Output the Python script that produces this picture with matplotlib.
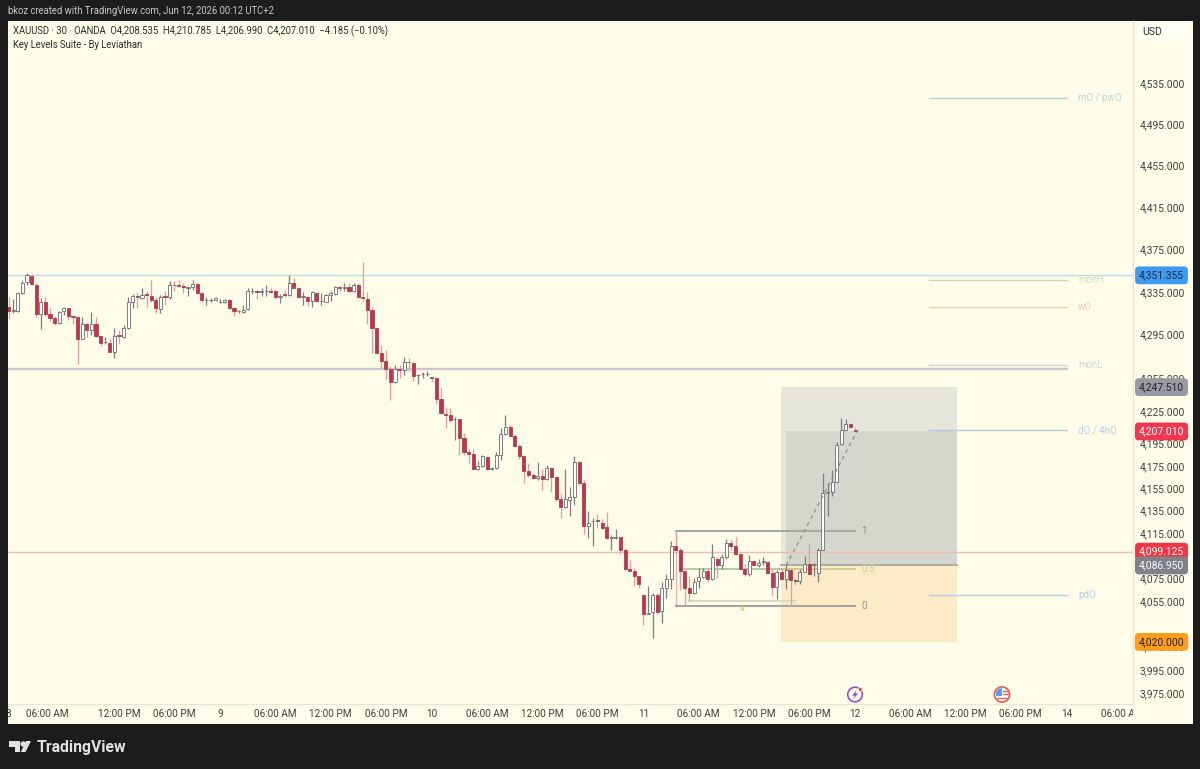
import matplotlib
matplotlib.use("Agg")
import matplotlib.pyplot as plt
from matplotlib.patches import Rectangle, Circle, Polygon

plt.rcParams['font.family'] = ['Roboto', 'DejaVu Sans']

# ---------- data ----------
opens = [4322,4318,4318,4335,4345,4351,4342,4315,4326,4315,4311,4307,4318,4321,4313,4312,4292,4306,4300,4306,
         4295,4289,4288,4280,4295.5,4294,4302,4326,4332,4330,4334,4332,4328,4320,4332,4331,4342.5,4342,4341,4339.5,
         4340,4343,4335,4328,4328,4328,4326,4326,4328,4321,4317.5,4317,4320,4336.5,4337,4336,4336.5,4337,4337,4331.5,4333.5,
         4333,4344,4339,4331,4331,4327,4335,4327,4326,4333,4334,4340,4339,4340,4337,4342,4331,4329,4319,4302,
         4279,4272,4264,4252,4264,4263,4271,4270,4258.5,4259.5,4259.5,4257,4256,4237,4223,4222,4218,4218,4201,4188,
         4187,4173,4176,4184,4173,4174,4186,4205,4211,4203,4194,4185,4171,4168,4165,4167,4164,4174,4166,4146,
         4139,4145,4148,4179,4160,4122,4126,4127,4125,4121,4111,4111.5,4112,4101,4084,4082,4078,4061,4044,4046,
         4061,4047,4067,4075,4104,4101,4082,4067,4063,4073,4077,4082,4075,4093,4087,4094,4107,4104,4097,4084,
         4079,4091,4087,4090,4090,4080,4068,4081,4075,4083,4074,4073,4081,4088,4087,4080,4101,4151,4152,4161,
         4195.5,4208,4214,4208.535]
highs = [4331,4329,4336,4347,4354,4353,4344,4330,4331,4321,4313,4318,4322,4321,4314,4313,4312,4307,4317,4312,
         4295,4294,4292,4302,4300,4305,4331,4334,4336,4339,4337,4347,4331,4333,4337,4346,4346,4347,4344,4340,
         4347,4344,4336,4331,4330,4331,4329,4329,4329,4321,4319,4324,4339,4339,4338,4339,4342,4339,4337.5,4334,4338,
         4352,4349,4340,4336,4332,4336.5,4336,4335,4334,4337,4341,4341,4344,4344,4344,4344,4364,4336,4322,4302.5,
         4286,4282,4267,4268,4268,4275,4274,4271,4259.5,4261,4262,4257,4257,4247,4229,4228,4220,4218,4206,4191,
         4191,4180,4186,4185,4175,4188,4210,4222,4213,4205,4196,4186,4178,4169,4179,4173,4177,4175,4166,4151,
         4173,4157,4185,4180,4163,4135,4129,4133,4128,4134,4114,4119,4112.5,4102,4092,4085,4078,4061,4069,4063,
         4063,4072,4079,4109,4117,4102,4083,4078,4076,4085,4085,4084,4106,4094,4097,4110,4110,4112,4098,4088,
         4096,4092,4093,4094,4091,4085,4083,4085,4088,4085,4076,4084,4095,4107,4089,4102,4169,4160,4172,4197,
         4219,4218,4215,4210.785]
lows = [4311,4316,4317,4334,4342,4342,4312,4301,4313,4309,4305,4306,4314,4310,4306,4269,4292,4294,4296,4294,
        4285,4287,4280,4274,4287,4293,4301,4321,4321,4329,4322,4326,4316,4316,4324,4329,4337,4340,4335,4332,
        4338,4334,4326,4324,4326,4327,4325,4325,4320,4313,4316,4316,4319,4334,4329,4332,4332,4335,4329,4325,4331,
        4332,4339,4330,4324,4323,4322,4326,4324,4326,4327,4333,4337,4337,4336,4336,4330,4327,4306,4279,4278,
        4264,4254,4236,4251,4256,4259,4262,4253,4250,4256,4258,4252,4232,4223,4210,4216,4199,4186,4186,4178,
        4172,4172,4175,4172,4172,4173,4181,4204,4202,4193,4182,4160,4166,4164,4163,4154,4163,4152,4144,4129,
        4138,4131,4141,4159,4115,4111,4104,4120,4119,4110,4101,4110,4097,4082,4081,4069,4067,4035,4044,4023,
        4044,4036,4058,4066,4098,4065,4051,4056,4062,4067,4076,4073,4074,4076,4084,4093,4101,4096,4084,4078,
        4078,4087,4086,4087,4079,4061,4057,4074,4066,4051,4070,4071,4081,4079,4078,4072,4100.5,4131,4149,4160,
        4195,4208,4210,4206.99]
closes = [4318,4319,4335,4344,4352,4343,4315,4326,4315,4311,4307,4317,4321,4313,4312,4292,4306,4300,4306,4295,
          4288,4289.5,4280,4295,4295,4302,4326,4332,4331,4333,4333,4328,4321,4331,4331,4342,4342,4341,4340,4340,
          4343,4335,4328,4328.5,4328.5,4330,4326.5,4328,4321,4318,4318,4319,4337,4337,4336,4337,4337,4336,4331,4332,4333,
          4344,4339,4331,4332,4327,4336,4327,4327.5,4333,4335,4340,4339.5,4340,4337,4342,4331,4330,4319,4302,4279,
          4272,4264,4252,4264,4263,4271,4270.5,4257.5,4259,4260,4260,4256,4237,4224,4222,4217,4218.5,4201,4188,4187,
          4173,4176,4185,4173,4174,4186,4205,4211,4203,4194,4185,4171,4168,4165,4167,4164,4174,4166,4146,4139,
          4146,4148,4179,4160,4122,4125,4126.5,4126,4120,4111,4112,4112,4101,4084,4082,4078,4071,4044,4045,4061,
          4046,4067,4075,4104,4101,4082,4067,4063,4072,4077,4082,4075,4094,4087,4094,4107,4104,4097,4084,4079,
          4091,4087,4089,4091,4080,4068,4081,4075,4083,4074,4073,4081,4088,4079,4088,4101,4151,4152,4161,4195,
          4208,4214,4211,4207.01]
assert len(opens) == len(highs) == len(lows) == len(closes)
bar_index = list(range(len(closes)))

price_ticks = [4535,4495,4455,4415,4375,4335,4295,4255,4225,4195,4175,4155,4135,4115,4075,4055,4015,3995,3975]

time_ticks = [0,8.5,24,36,46,58,70,82,92,104,116,128,138,150,162,174,184,196,208,220,230,242]
time_labels = ['8','06:00 AM','12:00 PM','06:00 PM','9','06:00 AM','12:00 PM','06:00 PM','10','06:00 AM','12:00 PM','06:00 PM',
               '11','06:00 AM','12:00 PM','06:00 PM','12','06:00 AM','12:00 PM','06:00 PM','14','06:00 AM']

line_high = 4351.355
line_mid = 4264.2
line_low = 4099.125

key_names = ['mO / pwO','monH','wO','monL','dO / 4hO','pdO']
key_prices = [4521.4,4347,4321.7,4267.8,4208.3,4061]
key_colors = ['#b5d0d6','#cadcb6','#f6cbab','#cfd9d2','#b8c8dd','#bacce2']
key_text = ['#bcd8d2','#cfe0c4','#f7cdb0','#d0dad4','#bccde2','#bccde2']

pos_tp = 4247.51
pos_entry = 4086.95
pos_sl = 4020.0
pos2_tp = 4207.01

fib_values = [4117.5,4083.8,4050.9]
fib_names = ['1','0.5','0']
sub_level = 4055.7

badge_values = [4351.355,4247.51,4207.01,4099.125,4086.95,4020.0]
badge_colors = ['#3d9bf0','#9a9aa4','#f23650','#f23645','#7f808a','#ff9d1e']
badge_text = ['#1b2a3a','#222222','#ffffff','#ffffff','#ffffff','#2a2010']

# ---------- layout ----------
W, H = 1200, 769
DARK = '#1c1c1c'
CREAM = '#fffde9'
fig = plt.figure(figsize=(W/100, H/100), dpi=100, facecolor=DARK)

def box(x0, y0, x1, y1):
    return [x0/W, 1-y1/H, (x1-x0)/W, (y1-y0)/H]

XMIN, XMAX = -0.13, 244.4
YMIN, YMAX = 3966.4, 4597.2

ax = fig.add_axes(box(8, 21, 1133, 704), facecolor=CREAM)
ax.set_yscale('log')
ax.set_xlim(XMIN, XMAX)
ax.set_ylim(YMIN, YMAX)
ax.set_xticks([]); ax.set_yticks([]); ax.minorticks_off()
ax.tick_params(which='both', left=False, right=False, labelleft=False)
for s in ax.spines.values():
    s.set_visible(False)

# position tool
ax.add_patch(Rectangle((167.9, pos_entry), 38.3, pos_tp-pos_entry, fc='#e6e6da', ec='none', zorder=1))
ax.add_patch(Rectangle((169, pos_entry), 37.2, pos2_tp-pos_entry, fc='#d5d6cc', ec='none', zorder=1.1))
ax.add_patch(Rectangle((167.9, pos_sl), 38.3, pos_entry-pos_sl, fc='#fdebc8', ec='none', zorder=1))
ax.plot([167.9, 206.2], [pos_entry, pos_entry], color='#a9a9a2', lw=1.3, zorder=2)

# horizontal lines
ax.plot([XMIN, XMAX], [line_high]*2, color='#b9dcee', lw=1.0, zorder=1.5)
ax.plot([XMIN, 230.1], [line_mid]*2, color='#cfc7cc', lw=1.7, zorder=1.5)
ax.plot([XMIN, XMAX], [line_low]*2, color='#f0bcae', lw=1.0, zorder=1.5)

# key levels
for name, p, c, tc in zip(key_names, key_prices, key_colors, key_text):
    ax.plot([200, 230.1], [p, p], color=c, lw=1.0, zorder=1.5)
    ax.text(232.5, p, name, color=tc, fontsize=7, va='center', ha='left', zorder=2)

# fib
ax.plot([145, 145], [fib_values[2], fib_values[0]], color='#eeb3b3', lw=1.0, zorder=2)
ax.plot([145, 184], [fib_values[0]]*2, color='#a9a9a3', lw=1.5, zorder=2)
ax.plot([146.4, 168], [fib_values[1]]*2, color='#a8cb9c', lw=1.3, zorder=2)
ax.plot([168, 184], [fib_values[1]]*2, color='#c8cc8e', lw=1.3, zorder=2)
ax.plot([145, 184], [fib_values[2]]*2, color='#a5a5a0', lw=1.5, zorder=2)
ax.plot([148, 171], [sub_level]*2, color='#d8d6c2', lw=1.3, zorder=2)
for name, p, tc in zip(fib_names, fib_values, ['#8f8f8a', '#c7ca8c', '#8f8f8a']):
    ax.text(185.3, p, name, color=tc, fontsize=7, va='center', ha='left', zorder=2)
ax.text(159.4, sub_level-6, 'x', color='#f3b04c', fontsize=7, va='center', ha='center', zorder=2)

# dashed path
ax.plot([169, 184.4], [pos_entry, pos2_tp], color='#8d8d88', lw=0.9, ls=(0, (3, 3)), zorder=5)

# candles
for i, o, h, l, c in zip(bar_index, opens, highs, lows, closes):
    down = c < o
    wick = '#e79aa6' if down else '#7d7d7d'
    ax.plot([i, i], [l, h], color=wick, lw=0.9, zorder=3, solid_capstyle='butt')
    lo, hi = min(o, c), max(o, c)
    ax.bar(i, hi-lo, bottom=lo, width=0.68,
           color='#c0354b' if down else '#ffffff',
           edgecolor='#a84050' if down else '#6c6c6c', linewidth=0.6, zorder=4)

# price axis
axr = fig.add_axes(box(1133, 21, 1193, 704), facecolor=CREAM)
axr.set_yscale('log')
axr.set_xlim(0, 60)
axr.set_ylim(YMIN, YMAX)
axr.set_xticks([]); axr.set_yticks([]); axr.minorticks_off()
axr.tick_params(which='both', left=False, right=False, labelleft=False)
for s in axr.spines.values():
    s.set_visible(False)
axr.spines['left'].set_visible(True)
axr.spines['left'].set_color('#e9e7d3')
axr.spines['left'].set_linewidth(1)
for p in price_ticks:
    axr.text(29, p, f'{p:,.3f}', color='#3f3f3f', fontsize=7.4, va='center', ha='center', zorder=2)
for v, c, tc in zip(badge_values, badge_colors, badge_text):
    axr.text(28.5, v, f'{v:,.3f}', color=tc, fontsize=7.4, va='center', ha='center', zorder=5,
             bbox=dict(boxstyle='round,pad=0.38', fc=c, ec='none'))

# time axis
axb = fig.add_axes(box(8, 704, 1133, 724), facecolor=CREAM)
axb.set_xlim(XMIN, XMAX)
axb.set_ylim(0, 1)
axb.set_xticks([]); axb.set_yticks([])
for s in axb.spines.values():
    s.set_visible(False)
axb.spines['top'].set_visible(True)
axb.spines['top'].set_color('#e9e7d3')
for t, lab in zip(time_ticks, time_labels):
    axb.text(t, 0.5, lab, color='#3f3f3f', fontsize=7.2, va='center', ha='center', clip_on=True)

axc = fig.add_axes(box(1133, 704, 1193, 724), facecolor=CREAM)
axc.set_xticks([]); axc.set_yticks([])
for s in axc.spines.values():
    s.set_visible(False)

# overlay in pixel units for the chrome
ov = fig.add_axes([0, 0, 1, 1], facecolor='none')
ov.set_xlim(0, W); ov.set_ylim(H, 0); ov.axis('off')
ov.add_patch(Rectangle((1137, 22), 53, 19, fc='#fffff6', ec='none', zorder=2))
ov.text(1152.5, 32, 'USD', color='#333333', fontsize=7.6, va='center', ha='center', zorder=3)
ov.text(8, 11.5, 'bkoz created with TradingView.com, Jun 12, 2026 00:12 UTC+2', color='#c9c9c9', fontsize=6.85, va='center', ha='left')
ov.text(13, 31.5, 'XAUUSD · 30 · OANDA  O4,208.535  H4,210.785  L4,206.990  C4,207.010  −4.185 (−0.10%)', color='#2b2b2b', fontsize=6.87, va='center', ha='left')
ov.text(13, 44.5, 'Key Levels Suite - By Leviathan', color='#2b2b2b', fontsize=6.85, va='center', ha='left')

# events
ov.add_patch(Circle((855, 694.5), 7.3, fc='none', ec='#9c4fc4', lw=1.2))
ov.add_patch(Polygon([(857, 689.5), (852, 695.5), (855, 695.5), (853, 699.5), (858, 693.5), (855, 693.5)], fc='#9c3fc8', ec='none'))
ov.add_patch(Circle((860.3, 689.5), 2.0, fc='#ee3b3b', ec=CREAM, lw=0.5))
ov.add_patch(Circle((1002, 694.5), 7.6, fc='#ffffff', ec='#e85c5c', lw=1.2))
ov.add_patch(Polygon([(996, 692), (998, 689), (1002, 688), (1002, 696), (996, 696)], fc='#5aa0ee', ec='none'))
for yy, x0 in [(691, 1002.5), (694, 1002.5), (698, 997)]:
    ov.plot([x0, 1008], [yy, yy], color='#e86060', lw=1.0)

# logo
ov.add_patch(Polygon([(9, 741), (20, 741), (20, 752), (15, 752), (15, 747), (9, 747)], fc='#e3e3e3', ec='none'))
ov.add_patch(Circle((23.2, 744), 2.7, fc='#e3e3e3', ec='none'))
ov.add_patch(Polygon([(26, 741), (31, 741), (25.5, 752), (20.8, 752)], fc='#e3e3e3', ec='none'))
ov.text(37, 747.5, 'TradingView', color='#e3e3e3', fontsize=11.35, fontweight='bold', va='center', ha='left')

fig.savefig('out.png', dpi=100, facecolor=DARK)
